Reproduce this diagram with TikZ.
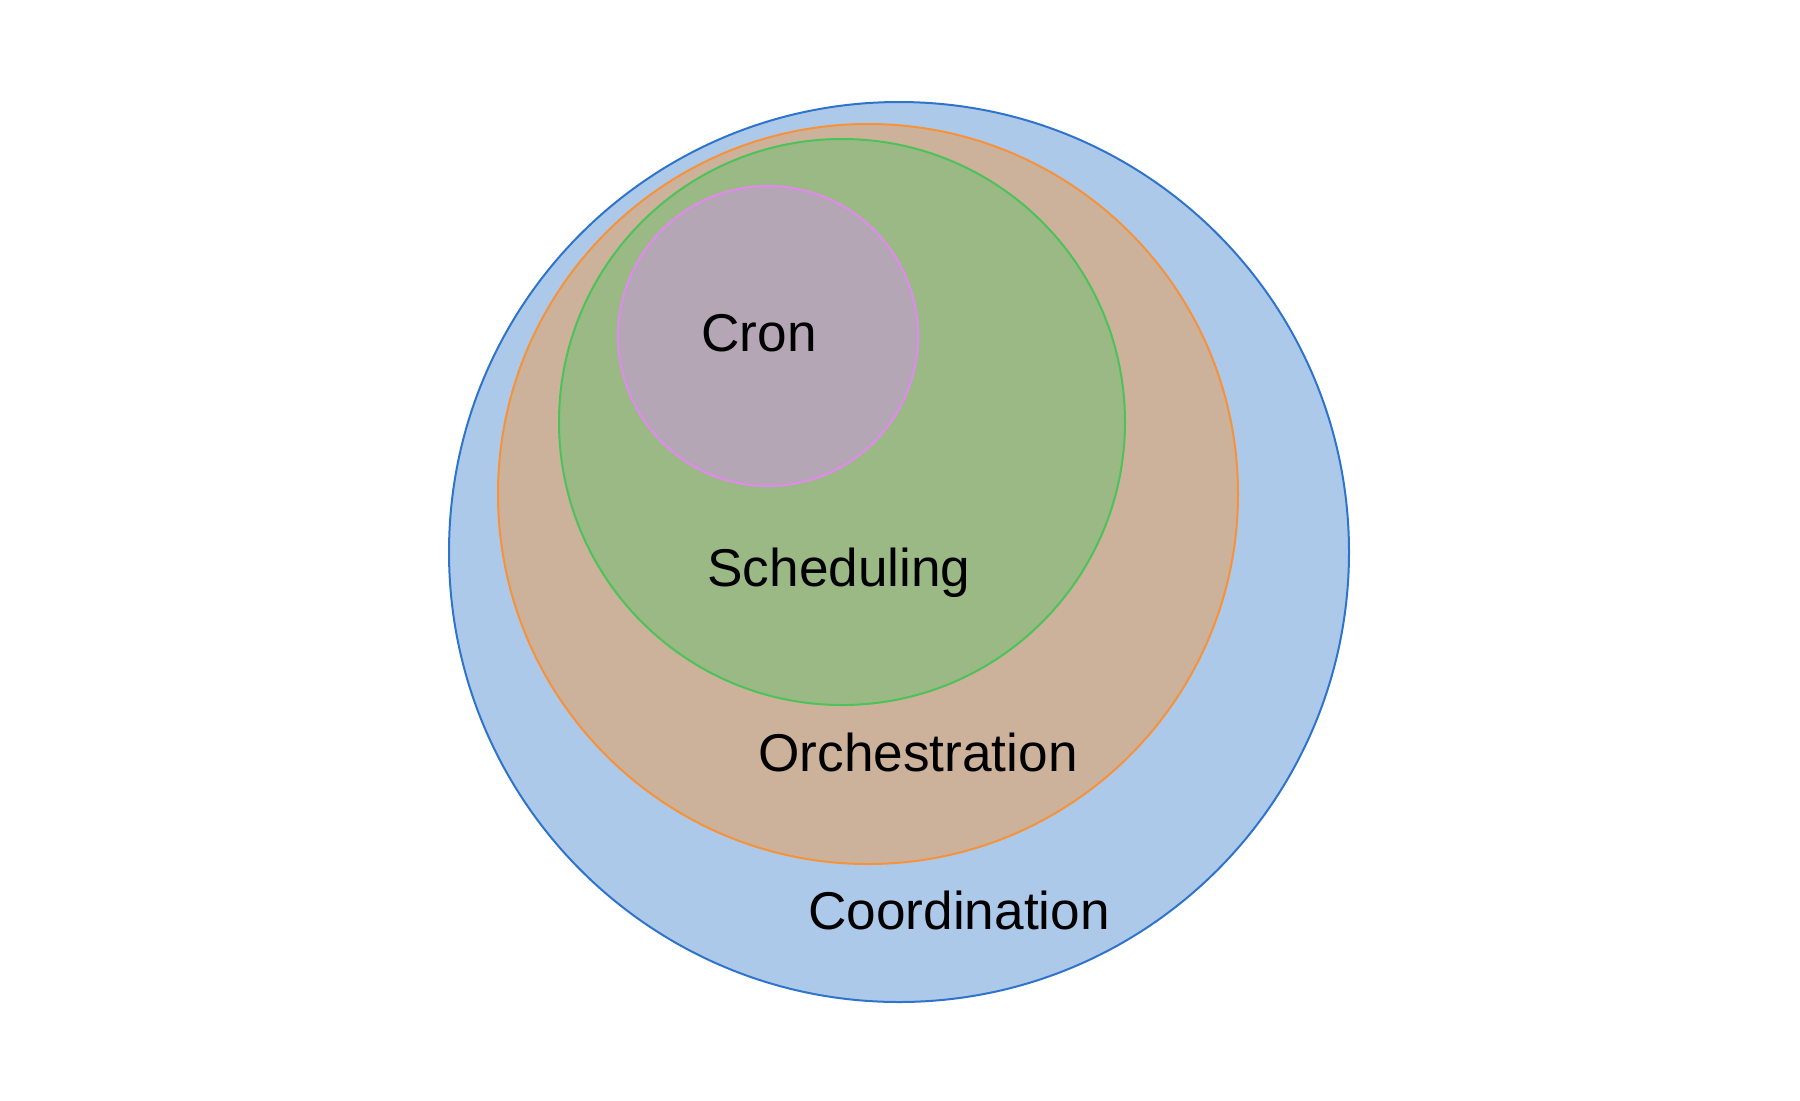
\documentclass[tikz,border=0pt]{standalone}
\usepackage{fontspec}
\setmainfont{Liberation Sans}
\definecolor{coordfill}{HTML}{ADC9EA}
\definecolor{coordline}{HTML}{2F74CB}
\definecolor{orchfill}{HTML}{CDB29B}
\definecolor{orchline}{HTML}{F5923A}
\definecolor{schedfill}{HTML}{9BB984}
\definecolor{schedline}{HTML}{4CC25A}
\definecolor{cronfill}{HTML}{B4A6B4}
\definecolor{cronline}{HTML}{E08AF0}
\tikzset{
  label/.style={font=\fontsize{26.6}{31}\selectfont, text=black}
}
\begin{document}
\begin{tikzpicture}[x=0.5pt,y=-0.5pt]
  \useasboundingbox (0,0) rectangle (1800,1100);
  \filldraw[fill=coordfill, draw=coordline, line width=1pt] (899,552) circle (450);
  \filldraw[fill=orchfill, draw=orchline, line width=1pt] (868,494) circle (370);
  \filldraw[fill=schedfill, draw=schedline, line width=1pt] (842,422) circle (283);
  \filldraw[fill=cronfill, draw=cronline, line width=1pt] (768,336) circle (150);
  \node[label] (cron) at (759,333) {Cron};
  \node[label] (sched) at (839,573) {Scheduling};
  \node[label] (orch) at (918,752) {Orchestration};
  \node[label] (coord) at (959,910) {Coordination};
\end{tikzpicture}
\end{document}
